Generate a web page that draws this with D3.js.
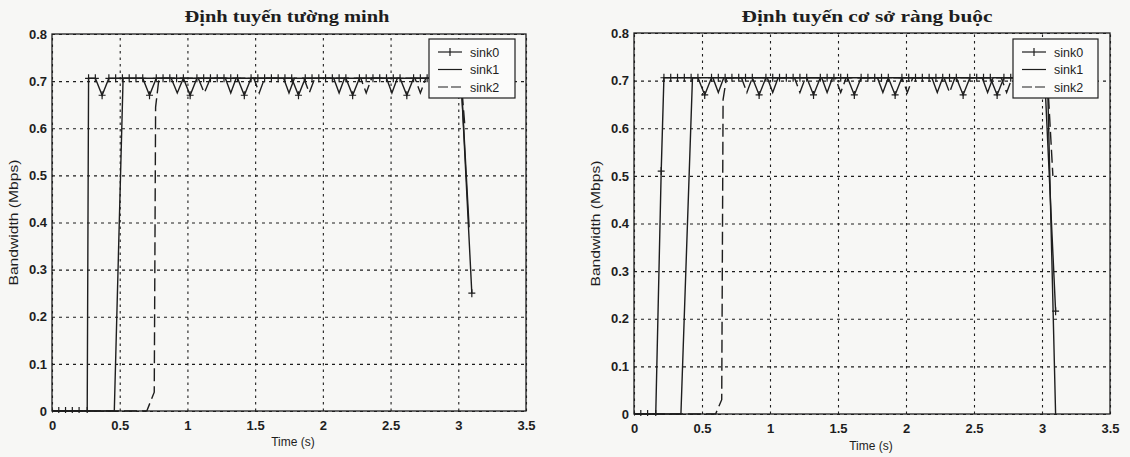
<!DOCTYPE html>
<html>
<head>
<meta charset="utf-8">
<script src="https://cdn.jsdelivr.net/npm/d3@7"></script>
<style>
  body { margin: 0; background: #f7f7f5; }
  svg { display: block; }
</style>
</head>
<body>
<svg width="1130" height="457"></svg>
<script>
// ---- data ----
var titles = ['Định tuyến tường minh', 'Định tuyến cơ sở ràng buộc']
var seriesNames = ['sink0', 'sink1', 'sink2']
var xTicks = [0, 0.5, 1, 1.5, 2, 2.5, 3, 3.5]
var yTicks = [0, 0.1, 0.2, 0.3, 0.4, 0.5, 0.6, 0.7, 0.8]
var xLabel = 'Time (s)'
var yLabel = 'Bandwidth (Mbps)'

// left panel
var leftSink0Time = [0, 0.05, 0.1, 0.15, 0.2, 0.26,
  0.27, 0.32, 0.37, 0.42, 0.47, 0.52, 0.57, 0.62, 0.67, 0.72,
  0.77, 0.82, 0.87, 0.92, 0.97, 1.02, 1.07, 1.12, 1.17, 1.22,
  1.27, 1.32, 1.37, 1.42, 1.47, 1.52, 1.57, 1.62, 1.67, 1.72,
  1.77, 1.82, 1.87, 1.92, 1.97, 2.02, 2.07, 2.12, 2.17, 2.22,
  2.27, 2.32, 2.37, 2.42, 2.47, 2.52, 2.57, 2.62, 2.67, 2.72,
  2.77, 2.82, 2.87, 2.92, 2.97, 3.02, 3.1]
var leftSink0Bw = [0, 0, 0, 0, 0, 0,
  0.706, 0.706, 0.67, 0.706, 0.706, 0.706, 0.706, 0.706, 0.706, 0.67,
  0.706, 0.706, 0.706, 0.706, 0.706, 0.67, 0.706, 0.706, 0.706, 0.706,
  0.706, 0.706, 0.706, 0.67, 0.706, 0.706, 0.706, 0.706, 0.706, 0.706,
  0.706, 0.67, 0.706, 0.706, 0.706, 0.706, 0.706, 0.706, 0.706, 0.67,
  0.706, 0.706, 0.706, 0.706, 0.706, 0.706, 0.706, 0.67, 0.706, 0.706,
  0.706, 0.706, 0.706, 0.706, 0.706, 0.706, 0.25]
var leftSink1Time = [0, 0.46, 0.525, 0.88, 0.925, 0.97, 1.28, 1.32, 1.36, 1.71, 1.75, 1.79,
  2.08, 2.12, 2.16, 2.47, 2.51, 2.55, 3.02, 3.08]
var leftSink1Bw = [0, 0, 0.706, 0.706, 0.675, 0.706, 0.706, 0.675, 0.706, 0.706, 0.675, 0.706,
  0.706, 0.675, 0.706, 0.706, 0.675, 0.706, 0.706, 0.39]
var leftSink2Time = [0, 0.70, 0.755, 0.765, 0.79, 1.08, 1.125, 1.17, 1.49, 1.53, 1.57,
  1.86, 1.90, 1.94, 2.28, 2.32, 2.36, 2.68, 2.72, 2.76, 3.02, 3.05]
var leftSink2Bw = [0, 0, 0.04, 0.645, 0.706, 0.706, 0.675, 0.706, 0.706, 0.675, 0.706,
  0.706, 0.675, 0.706, 0.706, 0.675, 0.706, 0.706, 0.675, 0.706, 0.706, 0.6]

// right panel
var rightSink0Time = [0, 0.05, 0.1, 0.16, 0.2,
  0.22, 0.27, 0.32, 0.37, 0.42, 0.47, 0.52, 0.57, 0.62, 0.67,
  0.72, 0.77, 0.82, 0.87, 0.92, 0.97, 1.02, 1.07, 1.12, 1.17,
  1.22, 1.27, 1.32, 1.37, 1.42, 1.47, 1.52, 1.57, 1.62, 1.67,
  1.72, 1.77, 1.82, 1.87, 1.92, 1.97, 2.02, 2.07, 2.12, 2.17,
  2.22, 2.27, 2.32, 2.37, 2.42, 2.47, 2.52, 2.57, 2.62, 2.67,
  2.72, 2.77, 2.82, 2.87, 2.92, 2.97, 3.02, 3.1]
var rightSink0Bw = [0, 0, 0, 0, 0.51,
  0.706, 0.706, 0.706, 0.706, 0.706, 0.706, 0.67, 0.706, 0.706, 0.706,
  0.706, 0.706, 0.706, 0.706, 0.67, 0.706, 0.706, 0.706, 0.706, 0.706,
  0.706, 0.706, 0.67, 0.706, 0.706, 0.706, 0.706, 0.706, 0.67, 0.706,
  0.706, 0.706, 0.706, 0.706, 0.67, 0.706, 0.706, 0.706, 0.706, 0.706,
  0.706, 0.706, 0.706, 0.706, 0.67, 0.706, 0.706, 0.706, 0.706, 0.67,
  0.706, 0.706, 0.706, 0.706, 0.706, 0.706, 0.706, 0.216]
var rightSink1Time = [0, 0.345, 0.43, 0.58, 0.62, 0.66, 0.98, 1.02, 1.06, 1.38, 1.42, 1.46,
  1.79, 1.83, 1.87, 2.19, 2.23, 2.27, 2.56, 2.6, 2.64, 3.04, 3.1]
var rightSink1Bw = [0, 0, 0.706, 0.706, 0.675, 0.706, 0.706, 0.675, 0.706, 0.706, 0.675, 0.706,
  0.706, 0.675, 0.706, 0.706, 0.675, 0.706, 0.706, 0.675, 0.706, 0.706, 0]
var rightSink2Time = [0, 0.6, 0.645, 0.655, 0.68, 0.79, 0.83, 0.87, 1.18, 1.22, 1.26,
  1.48, 1.52, 1.56, 1.97, 2.01, 2.05, 2.28, 2.32, 2.36, 2.70, 2.74, 2.78, 3.04, 3.08]
var rightSink2Bw = [0, 0, 0.03, 0.66, 0.706, 0.706, 0.675, 0.706, 0.706, 0.675, 0.706,
  0.706, 0.675, 0.706, 0.706, 0.675, 0.706, 0.706, 0.675, 0.706, 0.706, 0.675, 0.706, 0.706, 0.5]

// ---- layout ----
var ink = '#1e1e1e'
var panels = [
  { left: 52, right: 526, top: 34, bottom: 411, titleX: 287, titleW: 205, xlabX: 293, xlabY: 446, ylabX: 18,
    legend: { x: 429, y: 39, w: 86, h: 59 },
    series: [[leftSink0Time, leftSink0Bw], [leftSink1Time, leftSink1Bw], [leftSink2Time, leftSink2Bw]] },
  { left: 634, right: 1110, top: 33, bottom: 414, titleX: 867, titleW: 251, xlabX: 871, xlabY: 450, ylabX: 600,
    legend: { x: 1013, y: 39, w: 85, h: 59 },
    series: [[rightSink0Time, rightSink0Bw], [rightSink1Time, rightSink1Bw], [rightSink2Time, rightSink2Bw]] }
]
var dashes = [null, null, '13,5']

var svg = d3.select('svg')

panels.forEach(function (p, pi) {
  var x = d3.scaleLinear().domain([0, 3.5]).range([p.left, p.right])
  var y = d3.scaleLinear().domain([0, 0.8]).range([p.bottom, p.top])
  var w = p.right - p.left
  var h = p.bottom - p.top
  var g = svg.append('g')

  // dotted grid
  g.append('g')
    .attr('transform', 'translate(0,' + p.bottom + ')')
    .call(d3.axisBottom(x).tickValues(xTicks).tickSize(-h).tickFormat(''))
    .call(function (a) {
      a.select('.domain').remove()
      a.selectAll('line').attr('stroke', ink).attr('stroke-width', 1.1).attr('stroke-dasharray', '2.5,4')
    })
  g.append('g')
    .attr('transform', 'translate(' + p.left + ',0)')
    .call(d3.axisLeft(y).tickValues(yTicks).tickSize(-w).tickFormat(''))
    .call(function (a) {
      a.select('.domain').remove()
      a.selectAll('line').attr('stroke', ink).attr('stroke-width', 1.1).attr('stroke-dasharray', '3,4')
    })

  // tick labels
  g.append('g')
    .attr('transform', 'translate(0,' + p.bottom + ')')
    .call(d3.axisBottom(x).tickValues(xTicks).tickSize(0).tickPadding(10).tickFormat(function (d) { return String(d) }))
    .call(function (a) {
      a.select('.domain').remove()
      a.selectAll('text').attr('fill', ink).style('font', 'bold 13px "Liberation Sans", Arial, sans-serif')
    })
  g.append('g')
    .attr('transform', 'translate(' + p.left + ',0)')
    .call(d3.axisLeft(y).tickValues(yTicks).tickSize(0).tickPadding(5).tickFormat(function (d) { return String(d) }))
    .call(function (a) {
      a.select('.domain').remove()
      a.selectAll('text').attr('fill', ink).style('font', 'bold 13px "Liberation Sans", Arial, sans-serif')
    })

  // plot box
  g.append('rect')
    .attr('x', p.left).attr('y', p.top).attr('width', w).attr('height', h)
    .attr('fill', 'none').attr('stroke', ink).attr('stroke-width', 1.3)

  // series
  var clipId = 'clip' + pi
  svg.append('clipPath').attr('id', clipId)
    .append('rect').attr('x', p.left).attr('y', p.top - 2).attr('width', w).attr('height', h + 4)
  var line = d3.line().x(function (d) { return x(d[0]) }).y(function (d) { return y(d[1]) })
  var plot = g.append('g').attr('clip-path', 'url(#' + clipId + ')')

  p.series.forEach(function (s, si) {
    var pts = d3.zip(s[0], s[1])
    plot.append('path')
      .datum(pts)
      .attr('d', line)
      .attr('fill', 'none')
      .attr('stroke', ink)
      .attr('stroke-width', 1.4)
      .attr('stroke-dasharray', dashes[si])
    if (si === 0) {
      plot.selectAll('path.mark' + pi)
        .data(pts)
        .join('path')
        .attr('class', 'mark' + pi)
        .attr('d', function (d) {
          var cx = x(d[0]), cy = y(d[1])
          return 'M' + (cx - 3.5) + ',' + cy + 'H' + (cx + 3.5) + 'M' + cx + ',' + (cy - 4) + 'V' + (cy + 4)
        })
        .attr('stroke', ink)
        .attr('stroke-width', 1.2)
    }
  })

  // legend
  var L = p.legend
  var lg = g.append('g')
  lg.append('rect')
    .attr('x', L.x).attr('y', L.y).attr('width', L.w).attr('height', L.h)
    .attr('fill', '#fbfbfa').attr('stroke', ink).attr('stroke-width', 1.2)
  seriesNames.forEach(function (name, i) {
    var ly = L.y + 13 + i * 17.5
    lg.append('line')
      .attr('x1', L.x + 9).attr('x2', L.x + 33).attr('y1', ly).attr('y2', ly)
      .attr('stroke', ink).attr('stroke-width', 1.2)
      .attr('stroke-dasharray', i === 2 ? '10,3' : null)
    if (i === 0) {
      lg.append('path')
        .attr('d', 'M' + (L.x + 21) + ',' + (ly - 4) + 'V' + (ly + 4))
        .attr('stroke', ink).attr('stroke-width', 1.2)
    }
    lg.append('text')
      .attr('x', L.x + 41).attr('y', ly + 4.5)
      .attr('fill', ink)
      .style('font', '12.5px "Liberation Sans", Arial, sans-serif')
      .text(name)
  })

  // titles and axis labels
  g.append('text')
    .attr('x', p.titleX).attr('y', 22)
    .attr('text-anchor', 'middle')
    .attr('textLength', p.titleW).attr('lengthAdjust', 'spacingAndGlyphs')
    .attr('fill', ink)
    .style('font', 'bold 16px "Liberation Serif", "DejaVu Serif", serif')
    .text(titles[pi])
  g.append('text')
    .attr('x', p.xlabX).attr('y', p.xlabY)
    .attr('text-anchor', 'middle')
    .attr('fill', ink)
    .style('font', '12px "Liberation Sans", Arial, sans-serif')
    .text(xLabel)
  g.append('text')
    .attr('transform', 'translate(' + p.ylabX + ',' + ((p.top + p.bottom) / 2) + ') rotate(-90)')
    .attr('text-anchor', 'middle')
    .attr('textLength', 126).attr('lengthAdjust', 'spacingAndGlyphs')
    .attr('fill', ink)
    .style('font', '12px "Liberation Sans", Arial, sans-serif')
    .text(yLabel)
})
</script>
</body>
</html>
